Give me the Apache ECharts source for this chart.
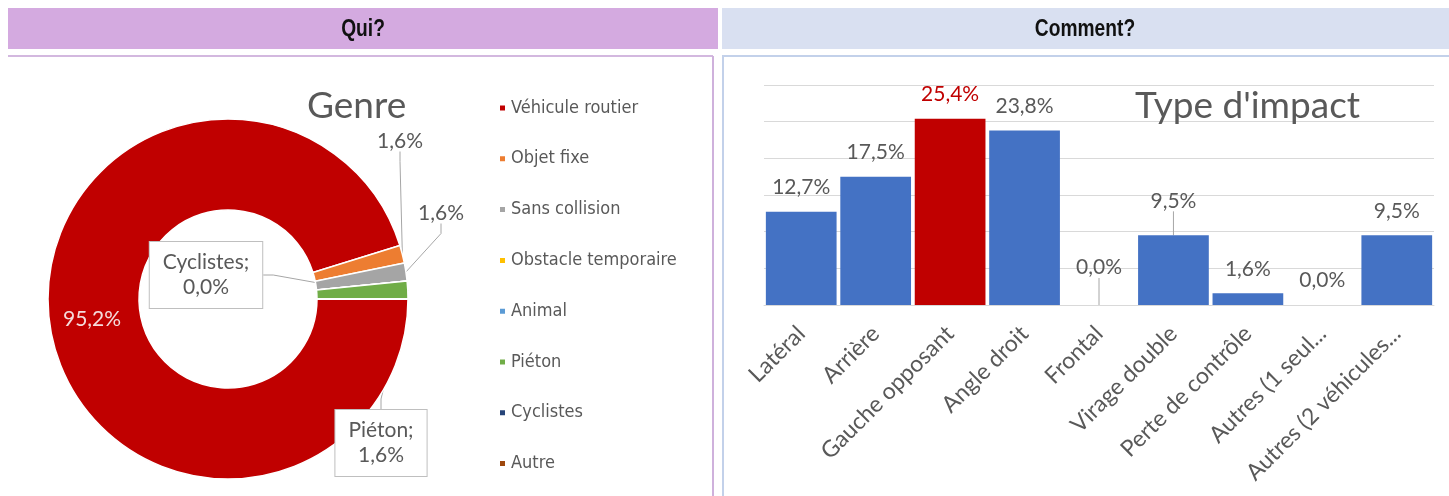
<!DOCTYPE html>
<html>
<head>
<meta charset="utf-8">
<script src="https://cdn.jsdelivr.net/npm/echarts@6/dist/echarts.min.js"></script>
<style>
  html, body { margin: 0; padding: 0; background: #fff; }
  #main { width: 1449px; height: 496px; }
</style>
</head>
<body>
<div id="main"></div>
<script>
// donut "Genre"
var genreNames = ['Véhicule routier', 'Objet fixe', 'Sans collision', 'Obstacle temporaire',
                  'Animal', 'Piéton', 'Cyclistes', 'Autre'];
var genreValues = [95.2, 1.6, 1.6, 0, 0, 1.6, 0, 0];
var genreColors = ['#c00000', '#ed7d31', '#a5a5a5', '#ffc000', '#5b9bd5', '#70ad47', '#264478', '#9e480e'];

// bars "Type d'impact"
var impactNames = ['Latéral', 'Arrière', 'Gauche opposant', 'Angle droit', 'Frontal',
                   'Virage double', 'Perte de contrôle', 'Autres (1 seul...', 'Autres (2 véhicules...'];
var impactValues = [12.7, 17.5, 25.4, 23.8, 0, 9.5, 1.6, 0, 9.5];
var impactHighlight = 'Gauche opposant';

var txtFont = 'Lato, "Open Sans", sans-serif';
var grey = '#595959';
var hdrFont = 'bold 24px "Liberation Sans", Arial, sans-serif';

function pct(v) {
  return v.toFixed(1).replace('.', ',') + '%';
}

// where the pie labels sit (moved by hand like in the original)
var pieLabelPos = {
  'Objet fixe': [400, 141],
  'Sans collision': [441, 213],
  'Cyclistes': [206, 275],
  'Piéton': [381, 443]
};

var boxLabel = {
  show: true,
  formatter: function (p) { return p.name + ';\n' + pct(p.value); },
  backgroundColor: '#fff',
  borderColor: '#bfbfbf',
  borderWidth: 1,
  padding: [8, 13],
  lineHeight: 25
};

var pieData = genreNames.map(function (n, i) {
  var lbl;
  if (i === 0) {
    lbl = { show: true, position: 'inside', color: '#f4dcdc' };
  } else if (n === 'Cyclistes' || n === 'Piéton') {
    lbl = boxLabel;
  } else if (genreValues[i] > 0) {
    lbl = { show: true };
  } else {
    lbl = { show: false };
  }
  return {
    name: n,
    value: genreValues[i],
    itemStyle: { color: genreColors[i] },
    label: lbl,
    labelLine: { show: !!pieLabelPos[n] }
  };
});

// labels that were lifted up in the original (with a leader line)
var barLabelShift = { 'Frontal': -13, 'Virage double': -10 };

var barData = impactValues.map(function (v, i) {
  var hl = impactNames[i] === impactHighlight;
  return {
    value: v,
    itemStyle: { color: hl ? '#c00000' : '#4472c4' },
    label: { color: hl ? '#c00000' : grey },
    labelLine: { show: !!barLabelShift[impactNames[i]] }
  };
});

var myChart = echarts.init(document.getElementById('main'));
var option = {
  animation: false,
  textStyle: { fontFamily: txtFont },
  graphic: [
    { type: 'rect', shape: { x: 8, y: 8, width: 710, height: 41 }, style: { fill: '#d4aae0' } },
    { type: 'rect', shape: { x: 722, y: 8, width: 727, height: 41 }, style: { fill: '#d9e0f1' } },
    { type: 'text', x: 363, y: 29, scaleX: 0.8, style: { text: 'Qui?', align: 'center', verticalAlign: 'middle',
        font: hdrFont, fill: '#111' } },
    { type: 'text', x: 1085, y: 29, scaleX: 0.8, style: { text: 'Comment?', align: 'center', verticalAlign: 'middle',
        font: hdrFont, fill: '#111' } },
    { type: 'line', shape: { x1: 8, y1: 56, x2: 713, y2: 56 }, style: { stroke: '#d3b8df', lineWidth: 2 } },
    { type: 'line', shape: { x1: 713, y1: 56, x2: 713, y2: 496 }, style: { stroke: '#cfb1dc', lineWidth: 2 } },
    { type: 'line', shape: { x1: 722, y1: 56, x2: 1449, y2: 56 }, style: { stroke: '#c3d1ea', lineWidth: 2 } },
    { type: 'line', shape: { x1: 723, y1: 56, x2: 723, y2: 496 }, style: { stroke: '#c3d1ea', lineWidth: 2 } }
  ],
  title: [
    { text: 'Genre', left: 302, top: 83,
      textStyle: { fontFamily: txtFont, fontSize: 37, fontWeight: 'normal', color: grey } },
    { text: "Type d'impact", left: 1130, top: 83,
      textStyle: { fontFamily: txtFont, fontSize: 37, fontWeight: 'normal', color: grey } }
  ],
  legend: {
    data: genreNames,
    orient: 'vertical',
    left: 493,
    top: 93,
    icon: 'rect',
    itemWidth: 7,
    itemHeight: 7,
    itemGap: 30.8,
    selectedMode: false,
    textStyle: {
      fontFamily: '"Liberation Sans Narrow", "DejaVu Sans Condensed", "Roboto Condensed", Lato, sans-serif',
      fontSize: 18, lineHeight: 20, color: grey
    }
  },
  grid: { left: 764, right: 15, top: 85, bottom: 191 },
  xAxis: {
    type: 'category',
    data: impactNames,
    axisLine: { lineStyle: { color: '#d9d9d9' } },
    axisTick: { show: false },
    axisLabel: { interval: 0, rotate: 45, margin: 25, fontSize: 23, color: grey, fontFamily: txtFont }
  },
  yAxis: {
    type: 'value',
    min: 0,
    max: 30,
    interval: 5,
    axisLabel: { show: false },
    axisLine: { show: false },
    axisTick: { show: false },
    splitLine: { lineStyle: { color: '#d9d9d9' } }
  },
  series: [
    {
      name: 'Genre',
      type: 'pie',
      center: [228, 299],
      radius: [89, 180],
      startAngle: 0,
      clockwise: true,
      avoidLabelOverlap: false,
      itemStyle: { borderColor: '#fff', borderWidth: 1.5 },
      label: {
        fontFamily: txtFont, fontSize: 21, color: grey,
        formatter: function (p) { return pct(p.value); }
      },
      labelLine: { lineStyle: { color: '#a6a6a6', width: 1 }, length: 10, length2: 10 },
      labelLayout: function (params) {
        var p = pieLabelPos[genreNames[params.dataIndex]];
        if (!p) return {};
        return { x: p[0], y: p[1], align: 'center', verticalAlign: 'middle' };
      },
      data: pieData
    },
    {
      name: "Type d'impact",
      type: 'bar',
      barCategoryGap: '5%',
      data: barData,
      label: {
        show: true,
        position: 'top',
        distance: 14,
        fontFamily: txtFont,
        fontSize: 21,
        formatter: function (p) { return pct(p.value); }
      },
      labelLine: { show: false, lineStyle: { color: '#a6a6a6', width: 1 } },
      labelLayout: function (params) {
        var d = barLabelShift[impactNames[params.dataIndex]];
        return d ? { dy: d } : {};
      }
    }
  ]
};
myChart.setOption(option);
</script>
</body>
</html>
